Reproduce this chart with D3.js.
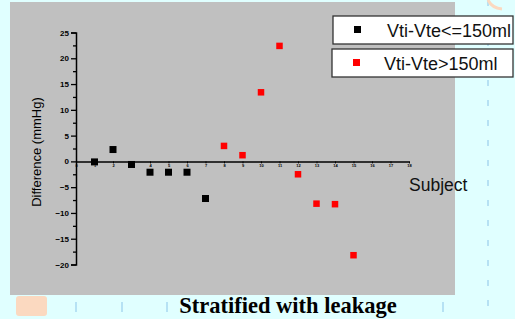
<!DOCTYPE html>
<html lang="en">
<head>
<meta charset="utf-8">
<title>Stratified with leakage</title>
<script src="https://cdn.jsdelivr.net/npm/d3@7"></script>
<style>
  body { margin: 0; background: #e0ffff; }
  svg { display: block; }
</style>
</head>
<body>
<script>
// Subject number vs. difference (mmHg), split by leak volume
var lowSubjects  = [1, 2, 3, 4, 5, 6, 7];
var lowValues    = [-0.1, 2.3, -0.6, -2.1, -2.1, -2.1, -7.2];
var highSubjects = [8, 9, 10, 11, 12, 13, 14, 15];
var highValues   = [3.0, 1.2, 13.4, 22.4, -2.5, -8.2, -8.3, -18.2];
var seriesNames  = ["Vti-Vte<=150ml", "Vti-Vte>150ml"];
var yTicks = [-20, -15, -10, -5, 0, 5, 10, 15, 20, 25];
var xTicks = d3.range(0, 19);

var W = 515, H = 319;
var svg = d3.select("body").append("svg").attr("width", W).attr("height", H);

// slide background bits
svg.append("rect").attr("width", W).attr("height", H).attr("fill", "#e0ffff");
svg.append("line").attr("x1", 488).attr("x2", 488).attr("y1", 0).attr("y2", H)
  .attr("stroke", "#a8d8f0").attr("stroke-width", 1.5).attr("stroke-dasharray", "6,14");
[76, 122, 167, 443].forEach(function (x) {
  svg.append("line").attr("x1", x).attr("x2", x).attr("y1", 302).attr("y2", 312)
    .attr("stroke", "#a8d8f0").attr("stroke-width", 1.5);
});
svg.append("rect").attr("x", 16).attr("y", 296).attr("width", 31).attr("height", 20)
  .attr("rx", 3).attr("fill", "#fbd9c0");
svg.append("path").attr("d", "M488,0 Q492,8 502,9").attr("fill", "none")
  .attr("stroke", "#fbd9c0").attr("stroke-width", 3);

// gray plot panel
svg.append("rect").attr("x", 10).attr("y", 2).attr("width", 445).attr("height", 293).attr("fill", "#c0c0c0");

var x = d3.scaleLinear().domain([0, 18]).range([76, 409]);
var y = d3.scaleLinear().domain([-20, 25]).range([264.5, 32.5]);

// y axis
var yAxis = svg.append("g").attr("transform", "translate(" + x(0) + ",0)")
  .call(d3.axisLeft(y).tickValues(yTicks).tickSize(5).tickPadding(2));
yAxis.select(".domain").attr("stroke", "#000").attr("stroke-width", 1.5);
yAxis.selectAll(".tick line").attr("stroke-width", 1.3);
yAxis.selectAll("text").attr("font-family", "Liberation Sans, Arial, sans-serif")
  .attr("font-size", 8).attr("font-weight", "bold").attr("fill", "#000");
svg.append("g").attr("transform", "translate(" + x(0) + ",0)")
  .call(d3.axisLeft(y).tickValues(yTicks.slice(0, -1).map(function (v) { return v + 2.5; }))
    .tickSize(3).tickFormat(""))
  .call(function (g) { g.select(".domain").remove(); g.selectAll("line").attr("stroke-width", 1.3); });

// x axis
var xAxis = svg.append("g").attr("transform", "translate(0," + y(0) + ")")
  .call(d3.axisBottom(x).tickValues(xTicks).tickSize(2).tickPadding(1).tickSizeOuter(0));
xAxis.select(".domain").attr("stroke-width", 1.5);
xAxis.selectAll("text").attr("font-family", "Liberation Sans, Arial, sans-serif")
  .attr("font-size", 4).attr("font-weight", "bold").attr("fill", "#000");

// points
var s1 = 7, s2 = 6.5;
svg.selectAll(".low").data(lowSubjects).enter().append("rect")
  .attr("class", "low")
  .attr("x", function (d) { return x(d) - s1 / 2; })
  .attr("y", function (d, i) { return y(lowValues[i]) - s1 / 2; })
  .attr("width", s1).attr("height", s1).attr("fill", "#000");
svg.selectAll(".high").data(highSubjects).enter().append("rect")
  .attr("class", "high")
  .attr("x", function (d) { return x(d) - s2 / 2; })
  .attr("y", function (d, i) { return y(highValues[i]) - s2 / 2; })
  .attr("width", s2).attr("height", s2).attr("fill", "#ff0000");

// axis titles
svg.append("text").attr("transform", "translate(41,152) rotate(-90)")
  .attr("text-anchor", "middle").attr("font-family", "Liberation Sans, Arial, sans-serif")
  .attr("font-size", 13).attr("fill", "#000").text("Difference (mmHg)");
svg.append("text").attr("x", 409).attr("y", 191)
  .attr("font-family", "Liberation Sans, Arial, sans-serif")
  .attr("font-size", 17.5).attr("fill", "#111").text("Subject");

// legend
var legendColors = ["#000", "#ff0000"];
var legend = svg.selectAll(".legend").data(seriesNames).enter().append("g")
  .attr("class", "legend")
  .attr("transform", function (d, i) { return "translate(0," + i * 33 + ")"; });
legend.append("rect").attr("x", function (d, i) { return 333 - i; }).attr("y", 16)
  .attr("width", function (d, i) { return 180 + i; }).attr("height", 28)
  .attr("fill", "#fff").attr("stroke", "#333").attr("stroke-width", 1.3);
legend.append("rect").attr("x", function (d, i) { return 354 - i; }).attr("y", 26)
  .attr("width", 7).attr("height", 7)
  .attr("fill", function (d, i) { return legendColors[i]; });
legend.append("text").attr("x", function (d, i) { return 387 - 3 * i; }).attr("y", 36.5)
  .attr("font-family", "Liberation Sans, Arial, sans-serif").attr("font-size", 18)
  .attr("fill", "#111").text(function (d) { return d; });

// title
svg.append("text").attr("x", 288).attr("y", 313).attr("text-anchor", "middle")
  .attr("font-family", "Liberation Serif, Times New Roman, serif")
  .attr("font-size", 22.5).attr("font-weight", "bold").attr("fill", "#000")
  .text("Stratified with leakage");
</script>
</body>
</html>
